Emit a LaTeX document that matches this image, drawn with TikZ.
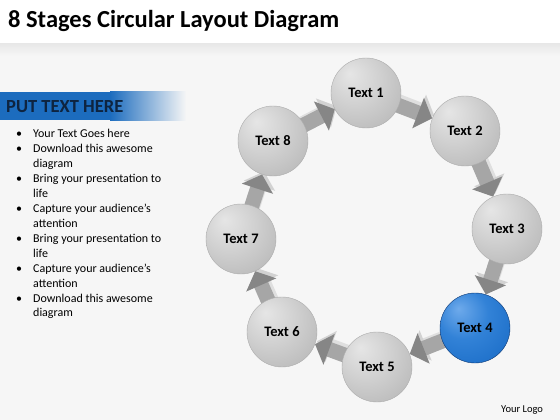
\documentclass[tikz,border=0pt]{standalone}
\usepackage{fontspec}
\setmainfont{Carlito}
\usetikzlibrary{arrows.meta,backgrounds}
\definecolor{bannerblue}{RGB}{28,108,190}
\definecolor{bannernavy}{RGB}{14,36,64}
\definecolor{paper}{RGB}{246,246,246}
\definecolor{blueA}{RGB}{110,170,235}
\definecolor{blueB}{RGB}{50,130,215}
\definecolor{blueC}{RGB}{28,110,200}
\definecolor{blueD}{RGB}{20,85,165}
\definecolor{blueE}{RGB}{12,55,115}
\pgfdeclareradialshading{greyball}{\pgfpoint{-12bp}{14bp}}{%
	color(0bp)=(gray!20); color(18bp)=(gray!36); color(38bp)=(gray!55); color(52bp)=(gray!72); color(66bp)=(gray!88)}
\pgfdeclareradialshading{blueball}{\pgfpoint{-12bp}{14bp}}{%
	color(0bp)=(blueA); color(18bp)=(blueB); color(38bp)=(blueC); color(52bp)=(blueD); color(66bp)=(blueE)}

\begin{document}
\begin{tikzpicture}[x=1pt, y=-1pt,
	stage/.style={circle, minimum size=70pt, inner sep=0pt, draw=gray!65, shading=greyball, font=\fontsize{14.5}{16}\selectfont\bfseries},
	flow/.style={line width=15pt, gray!70, -{Triangle[width=32pt,length=15pt,color=gray!95]}, shorten <=-10pt},
	flowshadow/.style={flow, gray!25, -{Triangle[width=32pt,length=15pt,color=gray!35]}, transform canvas={xshift=2pt,yshift=3pt}}]
	\useasboundingbox (0,0) rectangle (560,420);

	% title
	\node[anchor=base west, inner sep=0pt, font=\fontsize{24.5}{28}\selectfont\bfseries] (title) at (8,28) {8 Stages Circular Layout Diagram};

	% side text
	\node[anchor=base west, inner sep=0pt, text=bannernavy, font=\fontsize{18.5}{20}\selectfont\bfseries] (head) at (6,113) {PUT TEXT HERE};
	\node[anchor=base west, inner sep=0pt, font=\fontsize{12}{15}\selectfont] (list) at (16,137) {%
		\begin{tabular}[t]{@{}p{17pt}@{}l@{}}
		\textbullet & Your Text Goes here\\
		\textbullet & Download this awesome\\
		 & diagram\\
		\textbullet & Bring your presentation to\\
		 & life\\
		\textbullet & Capture your audience’s\\
		 & attention\\
		\textbullet & Bring your presentation to\\
		 & life\\
		\textbullet & Capture your audience’s\\
		 & attention\\
		\textbullet & Download this awesome\\
		 & diagram
		\end{tabular}};
	\node[anchor=base west, inner sep=0pt, font=\fontsize{10.5}{12}\selectfont] (logo) at (501,412) {Your Logo};

	% stages
	\node[stage] (c1) at (366,93) {Text 1};
	\node[stage] (c2) at (465,131) {Text 2};
	\node[stage] (c3) at (507,229) {Text 3};
	\node[stage, shading=blueball, draw=blueE] (c4) at (475,328) {Text 4};
	\node[stage] (c5) at (377,367) {Text 5};
	\node[stage] (c6) at (282,332) {Text 6};
	\node[stage] (c7) at (241,239) {Text 7};
	\node[stage] (c8) at (273,141) {Text 8};

	\begin{pgfonlayer}{background}
		\fill[white] (0,0) rectangle (560,420);
		\fill[paper] (0,56) rectangle (560,420);
		\shade[top color=gray!18, bottom color=paper] (0,44) rectangle (560,56);
		\fill[bannerblue] (0,92) rectangle (110,120);
		\shade[left color=bannerblue, right color=paper] (110,92) rectangle (186,120);
		% arrows
		\draw[flowshadow] (c1) -- (c2);
		\draw[flowshadow] (c2) -- (c3);
		\draw[flowshadow] (c3) -- (c4);
		\draw[flowshadow] (c4) -- (c5);
		\draw[flowshadow] (c5) -- (c6);
		\draw[flowshadow] (c6) -- (c7);
		\draw[flowshadow] (c7) -- (c8);
		\draw[flowshadow] (c8) -- (c1);
		\draw[flow] (c1) -- (c2);
		\draw[flow] (c2) -- (c3);
		\draw[flow] (c3) -- (c4);
		\draw[flow] (c4) -- (c5);
		\draw[flow] (c5) -- (c6);
		\draw[flow] (c6) -- (c7);
		\draw[flow] (c7) -- (c8);
		\draw[flow] (c8) -- (c1);
	\end{pgfonlayer}
\end{tikzpicture}
\end{document}
